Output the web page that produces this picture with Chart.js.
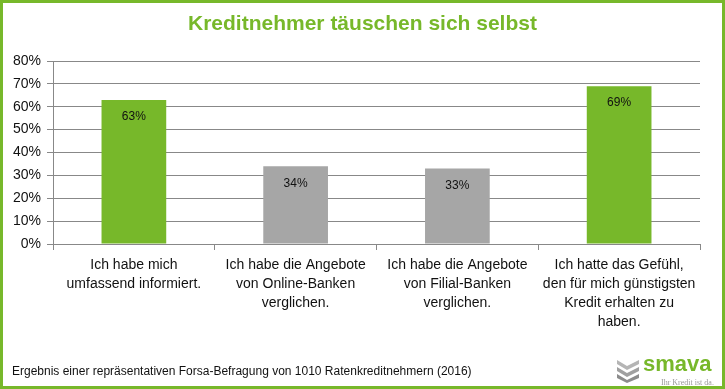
<!DOCTYPE html>
<html>
<head>
<meta charset="utf-8">
<script src="https://cdn.jsdelivr.net/npm/chart.js@4.4.1/dist/chart.umd.min.js"></script>
<style>
  body { margin: 0; background: #fff; }
  #frame {
    position: relative;
    width: 725px; height: 389px;
    box-sizing: border-box;
    border: 3px solid #77b82a;
    font-family: "Liberation Sans", Arial, sans-serif;
  }
  #title {
    position: absolute; left: 0; right: 0; top: 8px;
    text-align: center; color: #77b82a;
    font-size: 21px; font-weight: bold;
  }
  #note {
    position: absolute; left: 9px; top: 361px;
    font-size: 12px; color: #111;
  }
  #logo { position: absolute; left: 612px; top: 352px; width: 104px; height: 34px; }
  #logo .word {
    position: absolute; left: 28px; top: -4px;
    color: #77b82a; font-size: 22px; font-weight: bold;
  }
  #logo .tag {
    position: absolute; left: 46px; top: 23px; white-space: nowrap;
    color: #999; font-size: 8px; font-family: "Liberation Serif", serif;
  }
  canvas { position: absolute; left: 0; top: 0; }
</style>
</head>
<body>
<div id="frame">
  <canvas id="myChart" width="719" height="383"></canvas>
  <div id="title">Kreditnehmer täuschen sich selbst</div>
  <div id="note">Ergebnis einer repräsentativen Forsa-Befragung von 1010 Ratenkreditnehmern (2016)</div>
  <div id="logo">
    <svg width="26" height="26" viewBox="0 0 26 26" style="position:absolute;left:0;top:2px">
      <path d="M2 3 L12 9 L24 3 L24 7 L12 13 L2 7 Z" fill="#b5b5b5"/>
      <path d="M2 10 L12 16 L24 10 L24 14 L12 20 L2 14 Z" fill="#a0a0a0"/>
      <path d="M2 17 L12 23 L24 17 L24 21 L12 26 L2 21 Z" fill="#8c8c8c"/>
    </svg>
    <span class="word">smava</span>
    <span class="tag">Ihr Kredit ist da.</span>
  </div>
</div>
<script>
const categories = [
    ['Ich habe mich', 'umfassend informiert.'],
    ['Ich habe die Angebote', 'von Online-Banken', 'verglichen.'],
    ['Ich habe die Angebote', 'von Filial-Banken', 'verglichen.'],
    ['Ich hatte das Gefühl,', 'den für mich günstigsten', 'Kredit erhalten zu', 'haben.']
];
const shares = [63, 34, 33, 69];
const barColors = ['#77b82a', '#a6a6a6', '#a6a6a6', '#77b82a'];
const yTicks = [0, 10, 20, 30, 40, 50, 60, 70, 80];

const valueLabels = {
    id: 'valueLabels',
    afterDatasetsDraw(chart) {
        const ctx = chart.ctx;
        const meta = chart.getDatasetMeta(0);
        ctx.save();
        ctx.font = '12px "Liberation Sans", Arial, sans-serif';
        ctx.fillStyle = '#111';
        ctx.textAlign = 'center';
        ctx.textBaseline = 'middle';
        meta.data.forEach(function(bar, i) {
            ctx.fillText(shares[i] + '%', bar.x, bar.y + 17);
        });
        ctx.restore();
    }
};

const ctx = document.getElementById('myChart').getContext('2d');
const myChart = new Chart(ctx, {
    type: 'bar',
    data: {
        labels: categories,
        datasets: [{
            data: shares,
            backgroundColor: barColors,
            barPercentage: 0.4,
            categoryPercentage: 1
        }]
    },
    options: {
        responsive: false,
        animation: false,
        layout: { padding: { top: 58, right: 22, bottom: 0, left: 0 } },
        plugins: {
            legend: { display: false },
            tooltip: { enabled: false }
        },
        scales: {
            x: {
                grid: {
                    offset: true,
                    drawOnChartArea: false,
                    tickLength: 6,
                    color: '#888'
                },
                border: { color: '#888' },
                ticks: {
                    color: '#111',
                    maxRotation: 0,
                    padding: 6,
                    font: { family: '"Liberation Sans", Arial, sans-serif', size: 14, lineHeight: 1.36 }
                },
                afterFit(scale) { scale.height = 142; }
            },
            y: {
                min: 0,
                max: 80,
                afterBuildTicks(scale) { scale.ticks = yTicks.map(v => ({ value: v })); },
                grid: { color: '#888', tickLength: 6 },
                border: { color: '#888' },
                ticks: {
                    color: '#111',
                    padding: 6,
                    font: { family: '"Liberation Sans", Arial, sans-serif', size: 14 },
                    callback: v => v + '%'
                },
                afterFit(scale) { scale.width = 50; }
            }
        }
    },
    plugins: [valueLabels]
});
</script>
</body>
</html>
